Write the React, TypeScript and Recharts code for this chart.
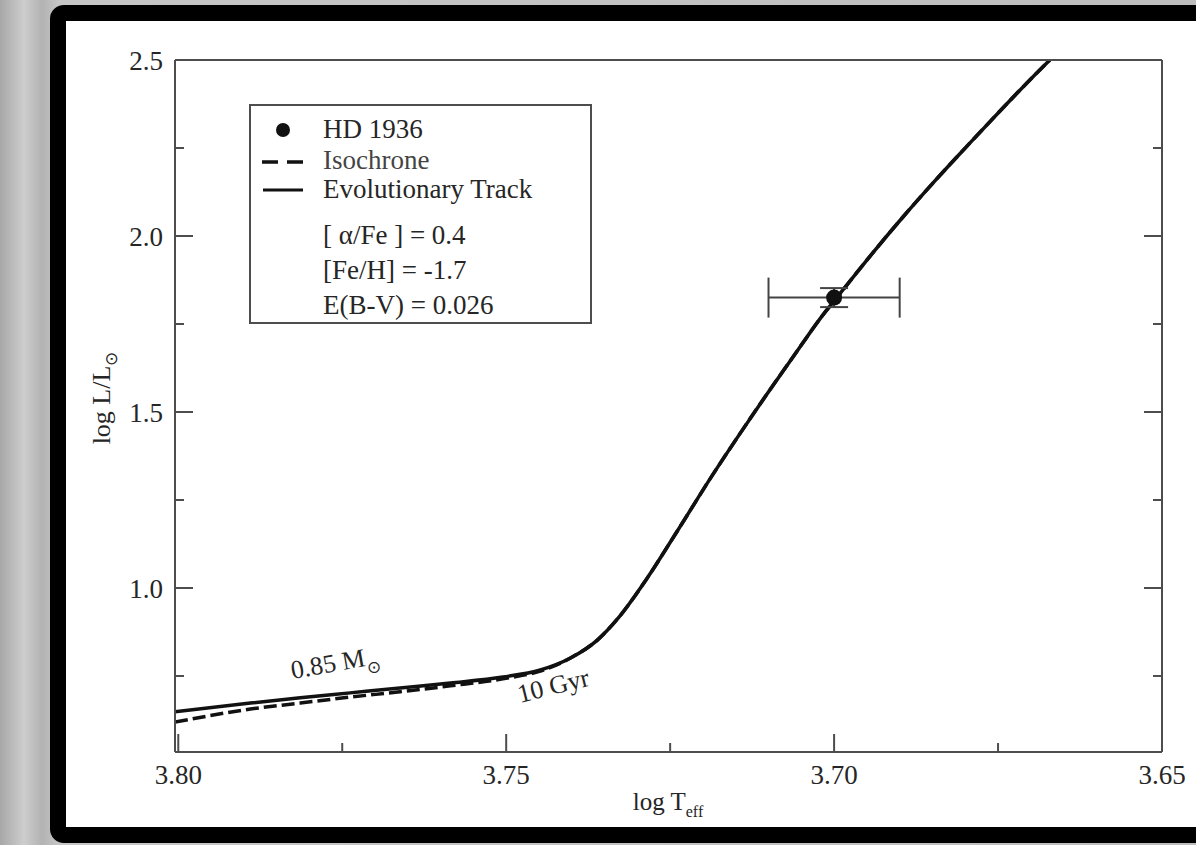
import {
  ComposedChart,
  Customized,
  ErrorBar,
  Line,
  ReferenceDot,
  Scatter,
  XAxis,
  YAxis,
} from "recharts"

// evolutionary track, 0.85 Msun
const TRACK_LOG_T = [
  3.8005, 3.789, 3.7814, 3.7738, 3.7662, 3.7585, 3.7505, 3.7448, 3.7402, 3.7361, 3.7329, 3.7285, 3.7239,
  3.7185, 3.7143, 3.7102, 3.7056, 3.7021, 3.6995, 3.6945, 3.6895, 3.6849, 3.6797, 3.6747, 3.6697, 3.6671,
]
const TRACK_LOG_L = [
  0.648, 0.673, 0.688, 0.702, 0.716, 0.73, 0.747, 0.767, 0.801, 0.852, 0.915, 1.028, 1.162, 1.322, 1.44,
  1.552, 1.674, 1.766, 1.827, 1.943, 2.054, 2.151, 2.256, 2.355, 2.452, 2.5,
]

// isochrone, 10 Gyr
const ISO_LOG_T = [
  3.8005, 3.789, 3.7814, 3.7738, 3.7662, 3.7585, 3.7505, 3.7448, 3.7402, 3.7361, 3.7329, 3.7285, 3.7239,
  3.7185, 3.7143, 3.7102, 3.7056, 3.7021, 3.6995, 3.6945, 3.6895, 3.6849, 3.6797, 3.6747, 3.6697, 3.6671,
]
const ISO_LOG_L = [
  0.619, 0.656, 0.673, 0.69, 0.705, 0.722, 0.742, 0.764, 0.801, 0.852, 0.915, 1.028, 1.162, 1.322, 1.44,
  1.552, 1.674, 1.766, 1.827, 1.943, 2.054, 2.151, 2.256, 2.355, 2.452, 2.5,
]

const STAR_NAME = "HD 1936"
const STAR_LOG_T = 3.7
const STAR_LOG_L = 1.825
const STAR_ERR_T = 0.01
const STAR_ERR_L = 0.027

const X_MAJOR = [3.8, 3.75, 3.7, 3.65]
const X_MINOR = [3.775, 3.725, 3.675]
const Y_MAJOR = [1.0, 1.5, 2.0, 2.5]
const Y_MINOR = [0.75, 1.25, 1.75, 2.25]

const LEGEND_NOTES = ["[ \u03b1/Fe ] = 0.4", "[Fe/H] = -1.7", "E(B-V) = 0.026"]

const MASS_LABEL = { logT: 3.7826, logL: 0.7415, text: "0.85 M", sub: "\u2299" }
const AGE_LABEL = { logT: 3.7479, logL: 0.6733, text: "10 Gyr" }

const FONT = '"Liberation Serif", "Times New Roman", serif'
const AXIS = "#4d4d4d"
const INK = "#111"
const TEXT = "#262626"
const MAJOR_LEN = 18
const MINOR_LEN = 9

const trackRows = TRACK_LOG_T.map((t, i) => ({ logT: t, logL: TRACK_LOG_L[i] }))
const isoRows = ISO_LOG_T.map((t, i) => ({ logT: t, logL: ISO_LOG_L[i] }))
const starRows = [{ logT: STAR_LOG_T, logL: STAR_LOG_L, errT: STAR_ERR_T, errL: STAR_ERR_L }]

function BottomTick(props: any) {
  const { x, y, payload } = props
  const major = X_MAJOR.includes(payload.value)
  return (
    <g>
      <line x1={x} x2={x} y1={y} y2={y - (major ? MAJOR_LEN : MINOR_LEN)} stroke={AXIS} strokeWidth={2} />
      {major && (
        <text x={x} y={y + 13} dy="0.71em" textAnchor="middle" fontFamily={FONT} fontSize={27} fill={TEXT}>
          {payload.value.toFixed(2)}
        </text>
      )}
    </g>
  )
}

function TopTick(props: any) {
  const { x, y, payload } = props
  const major = X_MAJOR.includes(payload.value)
  return <line x1={x} x2={x} y1={y} y2={y + (major ? MAJOR_LEN : MINOR_LEN)} stroke={AXIS} strokeWidth={2} />
}

function LeftTick(props: any) {
  const { x, y, payload } = props
  const major = Y_MAJOR.includes(payload.value)
  return (
    <g>
      <line x1={x} x2={x + (major ? MAJOR_LEN : MINOR_LEN)} y1={y} y2={y} stroke={AXIS} strokeWidth={2} />
      {major && (
        <text x={x - 12} y={y} dy="0.355em" textAnchor="end" fontFamily={FONT} fontSize={27} fill={TEXT}>
          {payload.value.toFixed(1)}
        </text>
      )}
    </g>
  )
}

function RightTick(props: any) {
  const { x, y, payload } = props
  const major = Y_MAJOR.includes(payload.value)
  return <line x1={x} x2={x - (major ? MAJOR_LEN : MINOR_LEN)} y1={y} y2={y} stroke={AXIS} strokeWidth={2} />
}

function LegendBox() {
  return (
    <g fontFamily={FONT} fontSize={27} fill={TEXT}>
      <rect x={250} y={105} width={341} height={218} fill="#fff" stroke={AXIS} strokeWidth={2} />
      <circle cx={283} cy={130} r={7} fill={INK} />
      <line x1={262} x2={303} y1={162} y2={162} stroke={INK} strokeWidth={3.5} strokeDasharray="16 9" />
      <line x1={263} x2={303} y1={190} y2={190} stroke={INK} strokeWidth={3} />
      <text x={323} y={138}>{STAR_NAME}</text>
      <text x={323} y={169} fill="#444">Isochrone</text>
      <text x={323} y={198}>Evolutionary Track</text>
      {LEGEND_NOTES.map((note, i) => (
        <text key={note} x={323} y={244 + i * 35}>
          {note}
        </text>
      ))}
      <text x={668} y={810} textAnchor="middle" fontSize={25}>
        log T
        <tspan dy={7} fontSize={16}>
          eff
        </tspan>
      </text>
      <text transform="translate(110,398) rotate(-90)" textAnchor="middle" fontSize={26}>
        log L/L
        <tspan dy={7} fontSize={17}>
          {"\u2299"}
        </tspan>
      </text>
    </g>
  )
}

function StarDot(props: any) {
  return <circle cx={props.cx} cy={props.cy} r={8} fill={INK} />
}

export default function App() {
  return (
    <div
      style={{
        position: "absolute",
        left: 0,
        top: 0,
        width: 1196,
        height: 845,
        overflow: "hidden",
        background: "linear-gradient(90deg, #a7a7a7 0%, #cdcdcd 2%, #b3b3b3 3.5%, #c6c6c6 5%, #bdbdbd 100%)",
      }}
    >
      <div
        style={{
          position: "absolute",
          left: 50,
          top: 5,
          width: 1200,
          height: 838,
          border: "16px solid #000",
          borderRadius: 14,
          background: "#fff",
          boxSizing: "border-box",
        }}
      />
      <div style={{ position: "absolute", left: 0, top: 0 }}>
        <ComposedChart width={1196} height={845} margin={{ top: 59, right: 33, bottom: 0, left: 0 }}>
          <XAxis
            dataKey="logT"
            type="number"
            domain={[3.65, 3.8005]}
            reversed
            allowDataOverflow
            ticks={[...X_MAJOR, ...X_MINOR]}
            interval={0}
            height={93}
            tickSize={0}
            tickMargin={0}
            tickLine={false}
            axisLine={{ stroke: AXIS, strokeWidth: 2 }}
            tick={<BottomTick />}
          />
          <XAxis
            xAxisId="top"
            orientation="top"
            type="number"
            domain={[3.65, 3.8005]}
            reversed
            allowDataOverflow
            ticks={[...X_MAJOR, ...X_MINOR]}
            interval={0}
            height={1}
            tickSize={0}
            tickMargin={0}
            tickLine={false}
            axisLine={{ stroke: AXIS, strokeWidth: 2 }}
            tick={<TopTick />}
          />
          <YAxis
            dataKey="logL"
            type="number"
            domain={[0.534, 2.5]}
            allowDataOverflow
            ticks={[...Y_MAJOR, ...Y_MINOR]}
            interval={0}
            width={175}
            tickSize={0}
            tickMargin={0}
            tickLine={false}
            axisLine={{ stroke: AXIS, strokeWidth: 2 }}
            tick={<LeftTick />}
          />
          <YAxis
            yAxisId="right"
            orientation="right"
            type="number"
            domain={[0.534, 2.5]}
            allowDataOverflow
            ticks={[...Y_MAJOR, ...Y_MINOR]}
            interval={0}
            width={1}
            tickSize={0}
            tickMargin={0}
            tickLine={false}
            axisLine={{ stroke: AXIS, strokeWidth: 2 }}
            tick={<RightTick />}
          />
          <Customized component={<LegendBox />} />
          <Line
            data={trackRows}
            dataKey="logL"
            type="monotone"
            stroke={INK}
            strokeWidth={3.5}
            dot={false}
            activeDot={false}
            isAnimationActive={false}
          />
          <Line
            data={isoRows}
            dataKey="logL"
            type="monotone"
            stroke={INK}
            strokeWidth={3.5}
            strokeDasharray="13 5"
            dot={false}
            activeDot={false}
            isAnimationActive={false}
          />
          <Scatter data={starRows} dataKey="logL" shape={<StarDot />} isAnimationActive={false}>
            <ErrorBar dataKey="errT" direction="x" width={20} stroke="#444" strokeWidth={2} isAnimationActive={false} />
            <ErrorBar dataKey="errL" direction="y" width={14} stroke="#444" strokeWidth={2} isAnimationActive={false} />
          </Scatter>
          <ReferenceDot
            x={MASS_LABEL.logT}
            y={MASS_LABEL.logL}
            r={0}
            shape={(p: any) => (
              <text
                x={p.cx}
                y={p.cy}
                transform={`rotate(-10 ${p.cx} ${p.cy})`}
                fontFamily={FONT}
                fontSize={26}
                fill={TEXT}
              >
                {MASS_LABEL.text}
                <tspan dy={8} fontSize={17}>
                  {MASS_LABEL.sub}
                </tspan>
              </text>
            )}
          />
          <ReferenceDot
            x={AGE_LABEL.logT}
            y={AGE_LABEL.logL}
            r={0}
            shape={(p: any) => (
              <text
                x={p.cx}
                y={p.cy}
                transform={`rotate(-14 ${p.cx} ${p.cy})`}
                fontFamily={FONT}
                fontSize={26}
                fill={TEXT}
              >
                {AGE_LABEL.text}
              </text>
            )}
          />
        </ComposedChart>
      </div>
    </div>
  )
}
